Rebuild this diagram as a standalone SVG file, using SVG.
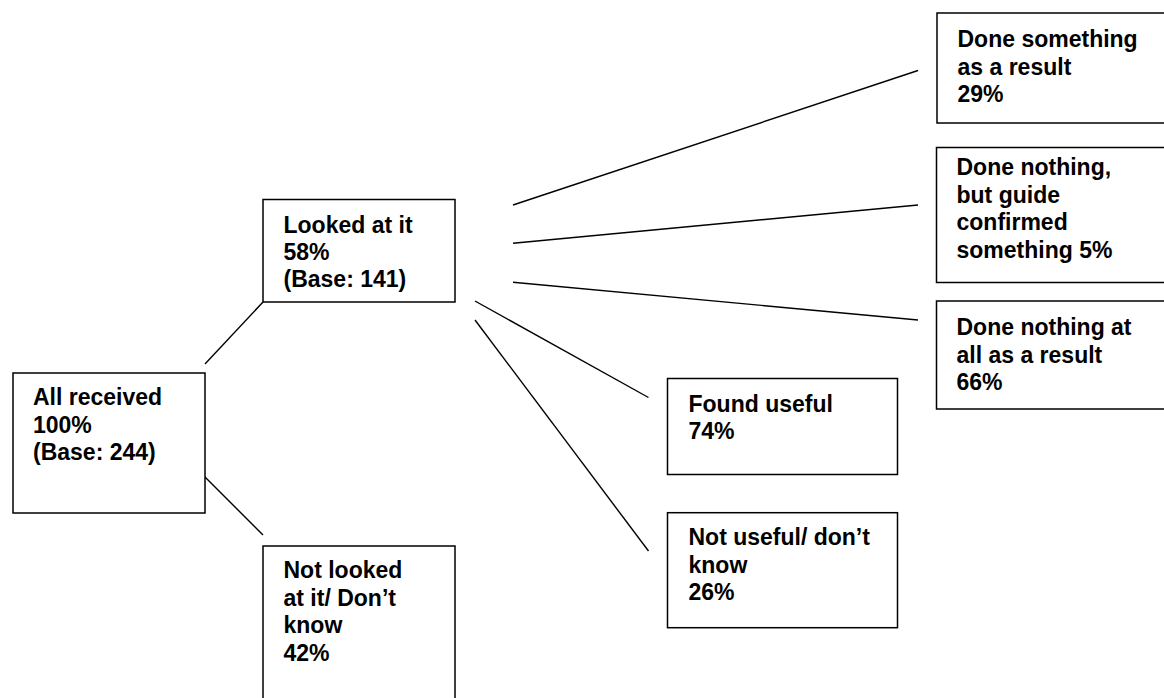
<svg xmlns="http://www.w3.org/2000/svg" width="1164" height="698" viewBox="0 0 1164 698">
<style>
  .box { fill: #ffffff; stroke: #000000; stroke-width: 1.5; }
  .lbl { font-family: "Liberation Sans", Arial, sans-serif; font-weight: bold; font-size: 23px; fill: #000000; }
  .conn line { stroke: #000000; stroke-width: 1.4; }
</style>
<rect width="1164" height="698" fill="#ffffff"/>
<g id="connectors" class="conn">
  <line x1="205" y1="364" x2="263" y2="302"/>
  <line x1="205" y1="477" x2="263" y2="535"/>
  <line x1="513" y1="205" x2="918" y2="70.5"/>
  <line x1="513" y1="243.3" x2="918" y2="205"/>
  <line x1="513" y1="282.3" x2="918" y2="320"/>
  <line x1="475" y1="301" x2="648.5" y2="397.5"/>
  <line x1="475" y1="320" x2="648.5" y2="551"/>
</g>
<g id="node-all-received">
  <rect class="box" x="13" y="373" width="192" height="140"/>
  <text class="lbl" x="33" y="405">All received</text>
  <text class="lbl" x="33" y="432.5">100%</text>
  <text class="lbl" x="33" y="460">(Base: 244)</text>
</g>
<g id="node-looked">
  <rect class="box" x="263" y="199.5" width="192" height="102.5"/>
  <text class="lbl" x="283.5" y="232.7">Looked at it</text>
  <text class="lbl" x="283.5" y="260">58%</text>
  <text class="lbl" x="283.5" y="287.3">(Base: 141)</text>
</g>
<g id="node-not-looked">
  <rect class="box" x="263" y="546" width="192" height="160"/>
  <text class="lbl" x="283.5" y="578.3">Not looked</text>
  <text class="lbl" x="283.5" y="606">at it/ Don’t</text>
  <text class="lbl" x="283.5" y="633.3">know</text>
  <text class="lbl" x="283.5" y="660.7">42%</text>
</g>
<g id="node-done-something">
  <rect class="box" x="937" y="13" width="240" height="110"/>
  <text class="lbl" x="957.5" y="47">Done something</text>
  <text class="lbl" x="957.5" y="74.5">as a result</text>
  <text class="lbl" x="957.5" y="102">29%</text>
</g>
<g id="node-done-nothing-confirmed">
  <rect class="box" x="936.5" y="147.5" width="240" height="135"/>
  <text class="lbl" x="956.5" y="175">Done nothing,</text>
  <text class="lbl" x="956.5" y="202.5">but guide</text>
  <text class="lbl" x="956.5" y="230">confirmed</text>
  <text class="lbl" x="956.5" y="257.5">something 5%</text>
</g>
<g id="node-done-nothing-all">
  <rect class="box" x="936.5" y="301" width="240" height="108"/>
  <text class="lbl" x="956.5" y="335">Done nothing at</text>
  <text class="lbl" x="956.5" y="362.5">all as a result</text>
  <text class="lbl" x="956.5" y="390">66%</text>
</g>
<g id="node-found-useful">
  <rect class="box" x="667.5" y="378.5" width="230" height="96"/>
  <text class="lbl" x="688.5" y="411.7">Found useful</text>
  <text class="lbl" x="688.5" y="439">74%</text>
</g>
<g id="node-not-useful">
  <rect class="box" x="667.5" y="512.7" width="230" height="115"/>
  <text class="lbl" x="688.5" y="545">Not useful/ don’t</text>
  <text class="lbl" x="688.5" y="572.7">know</text>
  <text class="lbl" x="688.5" y="600.3">26%</text>
</g>
</svg>
